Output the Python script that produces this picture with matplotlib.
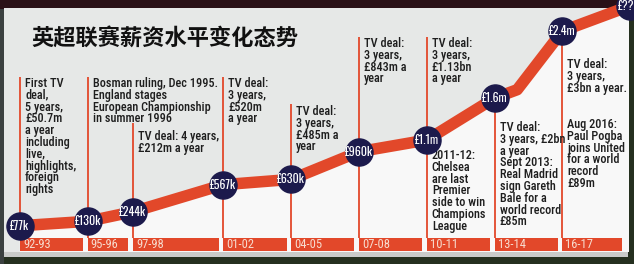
import matplotlib
matplotlib.use("Agg")
import matplotlib.pyplot as plt
from matplotlib.patches import Rectangle
from matplotlib.transforms import blended_transform_factory, offset_copy

# Average Premier League wage per player, by season (start year, £ thousands)
seasons = [1992, 1995, 1997, 2001, 2004, 2007, 2010, 2013, 2016]
season_labels = ["92-93", "95-96", "97-98", "01-02", "04-05", "07-08", "10-11", "13-14", "16-17"]
avg_wage_k = [77, 130, 244, 567, 630, 960, 1100, 1600, 2400]
wage_labels = ["£77k", "£130k", "£244k", "£567k", "£630k", "£960k", "£1.1m", "£1.6m", "£2.4m"]

# Unlabelled 14-15 season and the still unknown next figure
mid_season, mid_wage_k = 2014, 1700
next_season, next_wage_k = 2019, 2700
next_label = "£??m"

title = "英超联赛薪资水平变化态势"

notes_upper = [
    "First TV\ndeal,\n5 years,\n£50.7m\na year\nincluding\nlive,\nhighlights,\nforeign\nrights",
    "Bosman ruling, Dec 1995.\nEngland stages\nEuropean Championship\nin summer 1996",
    "TV deal: 4 years,\n£212m a year",
    "TV deal:\n3 years,\n£520m\na year",
    "TV deal:\n3 years,\n£485m a\nyear",
    "TV deal:\n3 years,\n£843m a\nyear",
    "TV deal:\n3 years,\n£1.13bn\na year",
    "TV deal:\n3 years, £2bn\na year\nSept 2013:\nReal Madrid\nsign Gareth\nBale for a\nworld record\n£85m",
    "TV deal:\n3 years,\n£3bn a year.",
]
notes_lower = {
    2010: "2011-12:\nChelsea\nare last\nPremier\nside to win\nChampions\nLeague",
    2016: "Aug 2016:\nPaul Pogba\njoins United\nfor a world\nrecord\n£89m",
}

# ---- layout (pixel rows measured from the top of a 634x264 canvas) ----
W, H = 634, 264
note_top_px = [77, 77, 130, 77, 105, 37, 37, 121, 58]
rule_top_px = [77, 77, 123, 77, 104, 37, 37, None, None]
lower_top_px = {2010: 149, 2016: 118}
box_top_px, box_bot_px = 237.5, 250.5

RED = "#e2482a"
NAVY = "#1c1a4c"
PANEL = "#e6e8e7"
INK = "#1e1e1e"
NARROW = ["Roboto Condensed", "IBM Plex Sans Condensed", "DejaVu Sans"]
TALL = ["Oswald", "Roboto Condensed", "IBM Plex Sans Condensed", "DejaVu Sans"]
NOTE_STYLE = dict(ha="left", va="top", fontsize=8.8, color=INK, family=NARROW,
                  fontweight="medium", linespacing=0.88, zorder=3)


def frac(px):
    return 1 - px / H


fig = plt.figure(figsize=(W / 100, H / 100), dpi=100)
fig.patch.set_facecolor("#25301f")

# photo frame around the card
fig.patches.append(Rectangle((0, frac(9)), 1, 1, transform=fig.transFigure,
                             facecolor="#2a1117", edgecolor="none", zorder=-3))
fig.patches.append(Rectangle((0, 0), 4 / W, frac(9), transform=fig.transFigure,
                             facecolor="#3b4140", edgecolor="none", zorder=-3))
# the card itself
fig.patches.append(Rectangle((4 / W, frac(257)), 624 / W, (257 - 8) / H,
                             transform=fig.transFigure, facecolor=PANEL,
                             edgecolor="none", zorder=-2))
fig.patches.append(Rectangle((4 / W, frac(257)), 624 / W, 5 / H,
                             transform=fig.transFigure, facecolor="#c9cbc9",
                             edgecolor="none", zorder=-1))

ax = fig.add_axes([0, 0, 1, 1])
ax.set_zorder(2)
ax.set_facecolor("none")
ax.axis("off")
ax.set_xlim(1991.115, 2019.168)
ax.set_ylim(-379.3, 2769.9)

blend = blended_transform_factory(ax.transData, ax.transAxes)

line_x = seasons[:8] + [mid_season] + seasons[8:] + [next_season]
line_y = avg_wage_k[:8] + [mid_wage_k] + avg_wage_k[8:] + [next_wage_k]

# lighter ground below the wage curve
under = ax.fill_between(line_x, line_y, -379.3, color="#f8f8f8", zorder=1)
under.set_clip_path(Rectangle((4 / W, frac(251)), 624 / W, (251 - 8) / H,
                              transform=fig.transFigure))

# season boxes along the bottom
for i, (yr, lab) in enumerate(zip(seasons, season_labels)):
    end = seasons[i + 1] - 0.2 if i + 1 < len(seasons) else yr + 2.65
    ax.add_patch(Rectangle((yr, frac(box_bot_px)), end - yr,
                           (box_bot_px - box_top_px) / H, transform=blend,
                           facecolor=RED, edgecolor="none", zorder=2))
    ax.text(yr, frac((box_top_px + box_bot_px) / 2), lab,
            transform=offset_copy(blend, fig=fig, x=3, y=0, units="dots"),
            ha="left", va="center", fontsize=9, color="#f7dccf",
            family=NARROW, zorder=3)

# vertical rules and notes
for yr, val, note, ntop, rtop in zip(seasons, avg_wage_k, notes_upper,
                                     note_top_px, rule_top_px):
    if rtop is None:
        ytop = ax.transLimits.transform((yr, val))[1]
    else:
        ytop = frac(rtop)
    ax.plot([yr, yr], [frac(box_top_px), ytop], transform=blend, color=RED,
            lw=1.3, zorder=2, solid_capstyle="butt")
    ax.text(yr, frac(ntop), note,
            transform=offset_copy(blend, fig=fig, x=5, y=0, units="dots"),
            **NOTE_STYLE)

for yr, note in notes_lower.items():
    ax.text(yr, frac(lower_top_px[yr]), note,
            transform=offset_copy(blend, fig=fig, x=5, y=0, units="dots"),
            **NOTE_STYLE)

# wage curve
ax.plot(line_x, line_y, color=RED, lw=8.3, solid_joinstyle="round",
        solid_capstyle="butt", zorder=4, clip_on=False)

# wage markers
mk_x = seasons + [next_season]
mk_y = avg_wage_k + [next_wage_k]
mk_lab = wage_labels + [next_label]
ax.plot(mk_x, mk_y, "o", ms=19.5, color=NAVY, mec=NAVY, zorder=5, clip_on=False)
for x, y, lab in zip(mk_x, mk_y, mk_lab):
    ax.text(x, y, lab, ha="center", va="center", fontsize=8.6, color="white",
            fontweight="bold", family=TALL, zorder=6)

fig.text(165 / W, frac(38), title, ha="center", va="center", fontsize=16,
         fontweight="black", color="#111111",
         family=["Noto Sans CJK SC", "DejaVu Sans"])

fig.savefig("out.png", dpi=100, facecolor=fig.get_facecolor())
